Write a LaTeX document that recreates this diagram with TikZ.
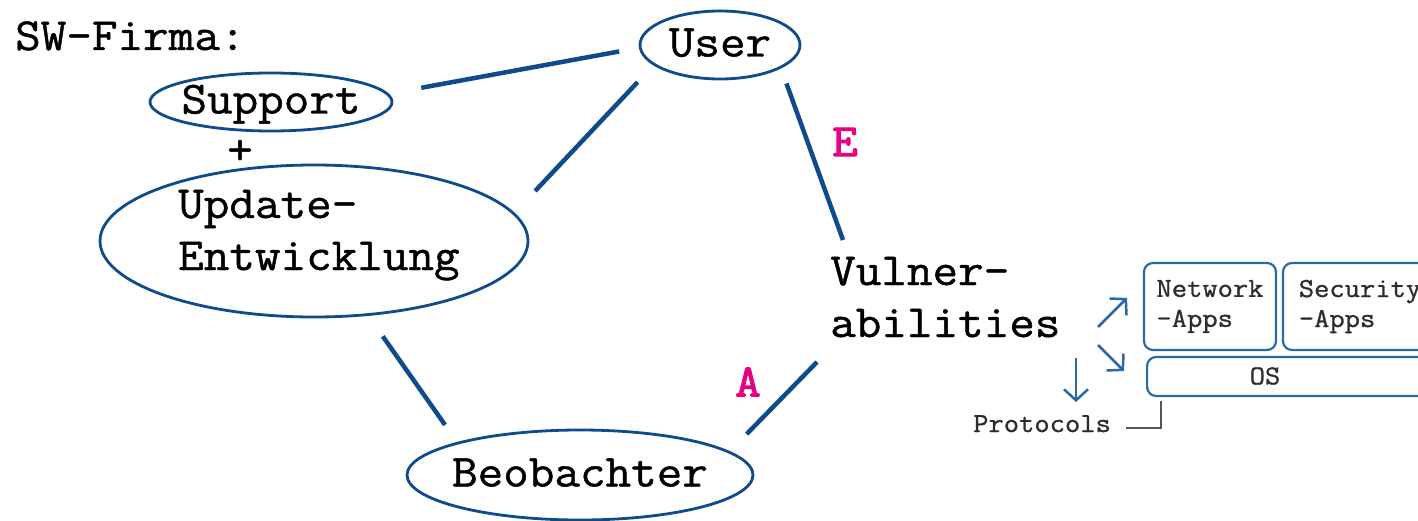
\documentclass[tikz,border=0pt]{standalone}
\usepackage{fontspec}
\setmonofont[FakeStretch=1.08,FakeBold=1]{Latin Modern Mono}
\newfontfamily\heavymono[FakeStretch=1.08,FakeBold=2.5]{Latin Modern Mono}
\usetikzlibrary{shapes.geometric,arrows.meta}
\definecolor{edgeblue}{RGB}{14,74,140}
\definecolor{boxblue}{RGB}{42,104,168}
\definecolor{hotpink}{RGB}{232,0,128}
\definecolor{bracketgray}{RGB}{85,85,85}
\definecolor{smalltext}{RGB}{45,45,45}

\begin{document}
\begin{tikzpicture}[x=1pt,y=-1pt,
  big/.style={font=\ttfamily\fontsize{46}{52}\selectfont},
  small/.style={font=\ttfamily\fontsize{27.5}{30}\selectfont, text=smalltext},
  oval/.style={ellipse, draw=edgeblue, line width=2.8pt, inner sep=0pt, big,
    text height=23pt, text depth=0pt},
  link/.style={draw=edgeblue, line width=4.5pt},
  letter/.style={font=\heavymono\fontsize{46}{52}\selectfont, text=hotpink, inner sep=0pt},
  layer/.style={draw=boxblue, line width=2.2pt, rounded corners=9pt, inner sep=0pt, small, align=left},
  pointer/.style={draw=boxblue, line width=2.5pt, -{Straight Barb[length=11pt,width=24pt]}},
]
\useasboundingbox (0,0) rectangle (1418,521);
\fill[white] (0,0) rectangle (1418,521);
\clip (0,0) rectangle (1418,521);

% company side
\node[big, anchor=base west, inner sep=0pt] (firm) at (15,50) {SW-Firma:};
\node[oval, minimum width=242pt, minimum height=58pt] (sup) at (271,102) {\makebox[0pt]{Support}};
\node[big, inner sep=0pt] (plus) at (240,152) {+};
\node[ellipse, draw=edgeblue, line width=2.8pt, minimum width=428pt, minimum height=152pt] (upd) at (314,241) {};
% base anchor of a multi-line node sits on its last line
\node[big, anchor=base west, inner sep=0pt, align=left] (updtxt) at (178,270) {Update-\\Entwicklung};

% user and observer
\node[oval, minimum width=160pt, minimum height=68pt] (user) at (720,45) {\makebox[0pt]{User}};
\node[oval, minimum width=346pt, minimum height=90pt] (beo) at (580,475) {\makebox[0pt]{Beobachter}};

% vulnerabilities
\node[big, anchor=base west, inner sep=0pt, align=left] (vul) at (830,337) {Vulner-\\abilities};
\node[letter] (e) at (845,142) {E};
\node[letter] (a) at (748,382) {A};

% relations
\draw[link, shorten <=33pt, shorten >=20pt] (sup.4) -- (user.182);
\draw[link, shorten <=23pt, shorten >=30pt] (user.197.5) -- (upd.8.5);
\draw[link, shorten <=16pt] (user.339) -- ([xshift=13pt,yshift=97pt]vul.base west);
\draw[link, shorten <=24pt] (beo.9.4) -- ([xshift=-13pt,yshift=-25pt]vul.base west);
\draw[link, shorten <=25pt, shorten >=21pt] (upd.306.3) -- (beo.165.7);

% software layers
\node[layer, minimum width=132pt, minimum height=87pt] (net) at (1210,306.5) {Network\\-Apps};
\node[layer, minimum width=154pt, minimum height=87pt] (sec) at (1360,306.5) {Security\\-Apps};
\node[layer, minimum width=300pt, minimum height=39pt, anchor=west] (os) at (1146,376.5) {};
\node[small, inner sep=0pt] (oslbl) at (1265,376) {OS};
\node[small, anchor=base west, inner sep=0pt] (proto) at (973,432) {Protocols};

% pointers from the vulnerabilities
\coordinate (p1s) at (1098,327); \coordinate (p1e) at (1127,298);
\coordinate (p2s) at (1098,345); \coordinate (p2e) at (1124,371);
\coordinate (p3s) at (1076,358); \coordinate (p3e) at (1076,402);
\draw[pointer] (p1s) -- (p1e);
\draw[pointer] (p2s) -- (p2e);
\draw[pointer] (p3s) -- (p3e);
\draw[bracketgray, line width=2.2pt] ([xshift=15pt,yshift=4pt]proto.base east) -| ([xshift=15pt,yshift=-4pt]os.south west);
\end{tikzpicture}
\end{document}
